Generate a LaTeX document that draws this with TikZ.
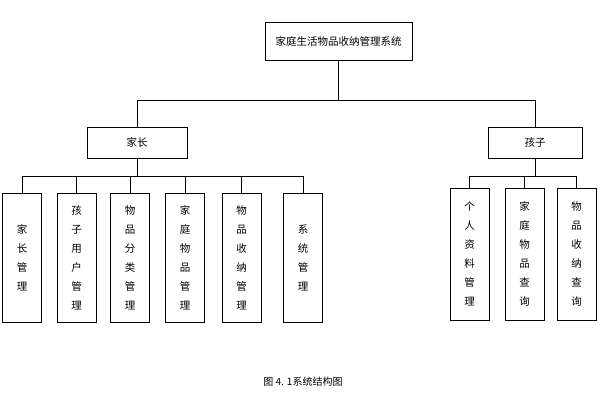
\documentclass[tikz,border=0pt]{standalone}
\usepackage{fontspec}
\setmainfont{Noto Sans CJK SC}
\begin{document}
\begin{tikzpicture}[x=1pt,y=-1pt,
  box/.style={draw,thin,font=\fontsize{10.5}{19}\selectfont,inner sep=0pt},
  leaf/.style={box,minimum width=39,minimum height=129,align=center},
  conn/.style={draw,thin}]
\useasboundingbox (0,0) rectangle (600,408);
\node[box,minimum width=147,minimum height=38] (root) at (338.5,41) {家庭生活物品收纳管理系统};
\node[box,minimum width=100,minimum height=31] (jz) at (137,142.5) {家长};
\node[box,minimum width=94,minimum height=31] (hz) at (535,142.5) {孩子};
\node[leaf] (a1) at (22,257.5) {家\\长\\管\\理};
\node[leaf] (a2) at (76.5,257.5) {孩\\子\\用\\户\\管\\理};
\node[leaf] (a3) at (130,257.5) {物\\品\\分\\类\\管\\理};
\node[leaf] (a4) at (185,257.5) {家\\庭\\物\\品\\管\\理};
\node[leaf] (a5) at (241.5,257.5) {物\\品\\收\\纳\\管\\理};
\node[leaf] (a6) at (303,257.5) {系\\统\\管\\理};
\node[leaf,minimum height=132] (b1) at (469.5,254) {个\\人\\资\\料\\管\\理};
\node[leaf,minimum height=132] (b2) at (524.5,254) {家\\庭\\物\\品\\查\\询};
\node[leaf,minimum height=132] (b3) at (576.5,254) {物\\品\\收\\纳\\查\\询};
% connectors
\foreach \c in {jz,hz}
  \draw[conn] (root.south) -- ++(0,40) -| (\c.north);
\foreach \c in {a1,a2,a3,a4,a5,a6}
  \draw[conn] (jz.south) -- ++(0,18) -| (\c.north);
\foreach \c in {b1,b2,b3}
  \draw[conn] (hz.south) -- ++(0,18) -| (\c.north);
\node[font=\fontsize{10}{12}\selectfont] (cap) at (303,382) {图 4. 1系统结构图};
\end{tikzpicture}
\end{document}
